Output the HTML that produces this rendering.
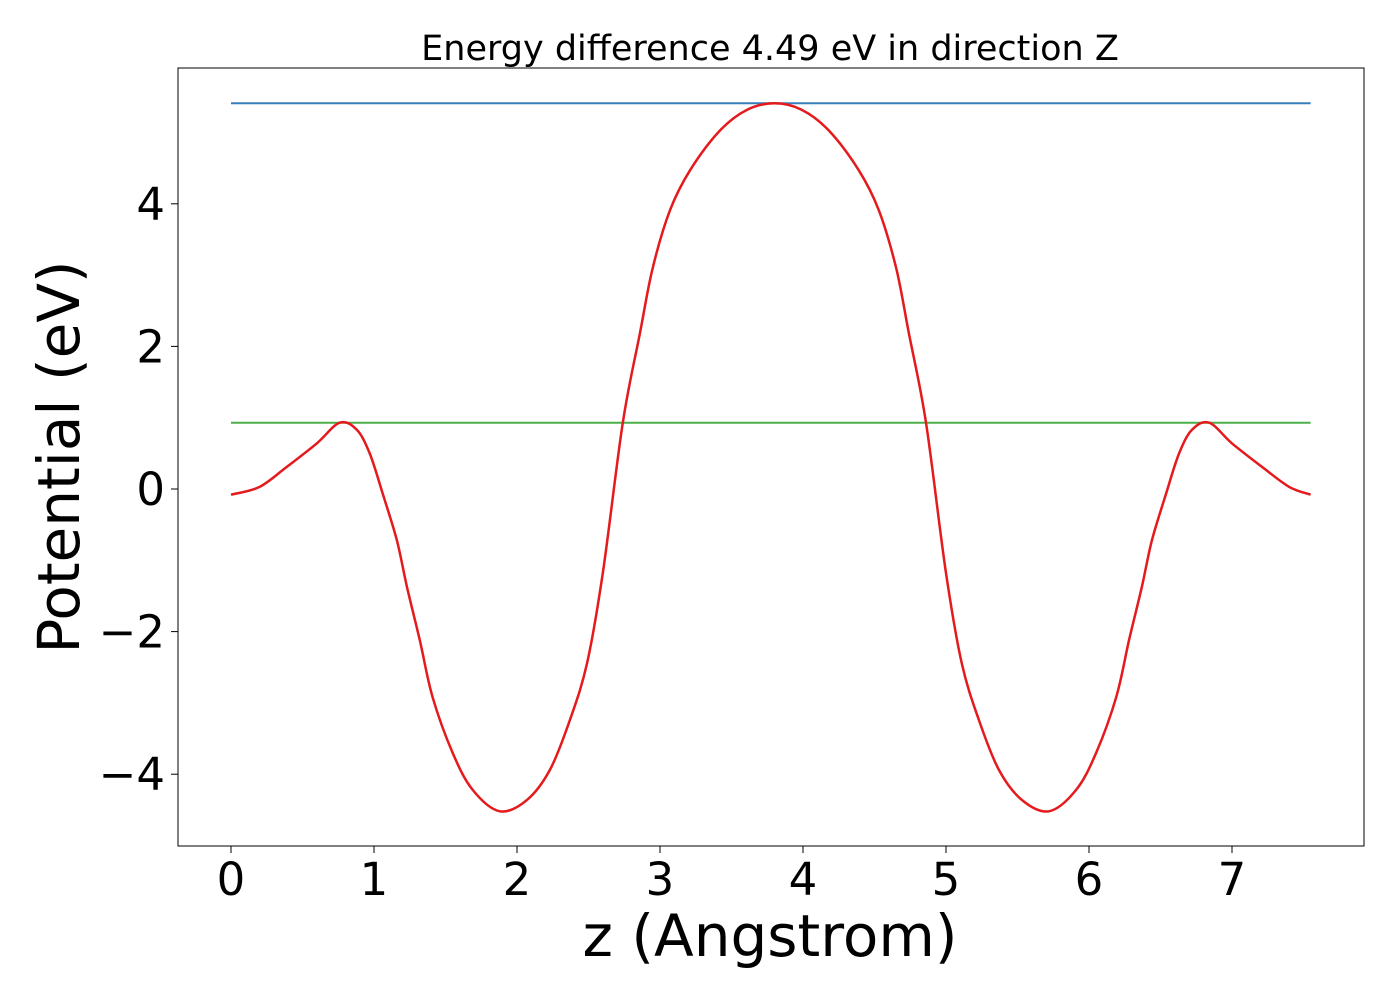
<!DOCTYPE html>
<html><head><meta charset="utf-8"><style>
body{margin:0;background:#fff}
svg text{font-family:"DejaVu Sans","Liberation Sans",sans-serif;fill:#000}
</style></head><body>
<svg id="chart" width="1400" height="1000" viewBox="0 0 1400 1000">
<rect width="1400" height="1000" fill="#fff"/>
<text x="770" y="60" font-size="35" text-anchor="middle">Energy difference 4.49 eV in direction Z</text>
<g id="plot"></g>
<rect x="178" y="68" width="1186" height="778" fill="none" stroke="#000" stroke-width="1"/>
<text x="770" y="956" font-size="58" text-anchor="middle">z (Angstrom)</text>
<text transform="translate(79,457) rotate(-90)" font-size="58" text-anchor="middle">Potential (eV)</text>
</svg>
<script>
const zValues=[0,0.2,0.39,0.6,0.76,0.88,0.97,1.06,1.16,1.23,1.32,1.41,1.55,1.69,1.88,2.07,2.23,2.37,2.49,2.6,2.74,2.86,2.95,3.07,3.21,3.42,3.61,3.8,3.99,4.18,4.39,4.53,4.65,4.74,4.86,5.0,5.11,5.23,5.37,5.53,5.72,5.91,6.05,6.19,6.28,6.37,6.44,6.54,6.63,6.72,6.84,7.0,7.21,7.4,7.55];
const potential=[-0.08,0.03,0.31,0.64,0.93,0.83,0.5,-0.06,-0.72,-1.37,-2.12,-2.92,-3.7,-4.22,-4.52,-4.36,-3.94,-3.24,-2.44,-1.18,0.93,2.19,3.11,3.91,4.47,5.03,5.32,5.41,5.32,5.03,4.47,3.91,3.11,2.19,0.93,-1.18,-2.44,-3.24,-3.94,-4.36,-4.52,-4.22,-3.7,-2.92,-2.12,-1.37,-0.72,-0.06,0.5,0.83,0.93,0.64,0.31,0.03,-0.08];
const vacuumLevel=[5.41];
const fermiLevel=[0.93];
const xTicks=[0,1,2,3,4,5,6,7];
const yTicks=[-4,-2,0,2,4];
const NS='http://www.w3.org/2000/svg';
const xs=z=>231+143*z;
const ys=v=>489-71.3*v;
const g=document.getElementById('plot');
function mk(t,a){const e=document.createElementNS(NS,t);for(const k in a)e.setAttribute(k,a[k]);g.appendChild(e);return e;}
xTicks.forEach(t=>{
  const l=mk('line',{x1:xs(t),x2:xs(t),y1:846,y2:853,stroke:'#000'});
  
  
  const tx=mk('text',{x:xs(t),y:895,'font-size':'45','text-anchor':'middle'});
  tx.textContent=t;
  
  
});
yTicks.forEach(t=>{
  const l=mk('line',{x1:171,x2:178,y1:ys(t),y2:ys(t),stroke:'#000'});
  
  
  const tx=mk('text',{x:165,y:ys(t)+16,'font-size':'45','text-anchor':'end'});
  tx.textContent=t<0?'\u2212'+Math.abs(t):t;
  
  
});
const x0=zValues[0],x1=zValues[zValues.length-1];
const vl=mk('line',{x1:xs(x0),x2:xs(x1),y1:ys(vacuumLevel[0]),y2:ys(vacuumLevel[0]),stroke:'#377eb8','stroke-width':2});


const fl=mk('line',{x1:xs(x0),x2:xs(x1),y1:ys(fermiLevel[0]),y2:ys(fermiLevel[0]),stroke:'#4daf4a','stroke-width':2});


const P=zValues.map((z,i)=>[xs(z),ys(potential[i])]);
let d='M'+P[0][0].toFixed(1)+','+P[0][1].toFixed(1);
for(let i=0;i<P.length-1;i++){
  const p0=P[Math.max(0,i-1)],p1=P[i],p2=P[i+1],p3=P[Math.min(P.length-1,i+2)];
  const c1=[p1[0]+(p2[0]-p0[0])/6,p1[1]+(p2[1]-p0[1])/6];
  const c2=[p2[0]-(p3[0]-p1[0])/6,p2[1]-(p3[1]-p1[1])/6];
  d+=' C'+c1[0].toFixed(1)+','+c1[1].toFixed(1)+' '+c2[0].toFixed(1)+','+c2[1].toFixed(1)+' '+p2[0].toFixed(1)+','+p2[1].toFixed(1);
}
const pl=mk('path',{d:d,fill:'none',stroke:'#e41a1c','stroke-width':2.5,'stroke-linejoin':'round'});


</script>
</body></html>
